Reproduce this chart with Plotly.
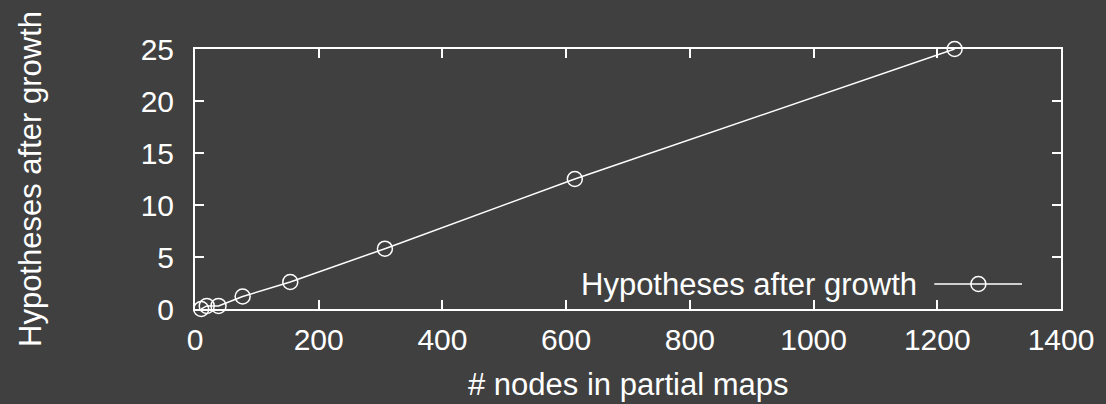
import plotly.graph_objects as go

nodes = [10, 19, 38, 77, 154, 307, 614, 1228]
hypotheses = [0.0, 0.3, 0.3, 1.2, 2.6, 5.8, 12.5, 25.0]
series_name = "Hypotheses after growth"
x_title = "# nodes in partial maps"
y_title = "Hypotheses after growth"
x_ticks = [0, 200, 400, 600, 800, 1000, 1200, 1400]
y_ticks = [0, 5, 10, 15, 20, 25]

BG = "#404040"
FG = "white"
FONT = "Liberation Sans, Arial, sans-serif"

fig = go.Figure()
fig.add_trace(go.Scatter(
    x=nodes, y=hypotheses, mode="lines+markers", name=series_name,
    line=dict(color=FG, width=1.5),
    marker=dict(symbol="circle-open", size=15, color=FG, line=dict(width=1.5, color=FG)),
    showlegend=False, cliponaxis=False,
))

axis_common = dict(
    showgrid=False, zeroline=False, showline=True, linecolor=FG, linewidth=2,
    mirror="ticks", ticks="inside", ticklen=9, tickwidth=1.5, tickcolor=FG,
    tickfont=dict(family=FONT, size=30, color=FG),
)
fig.update_xaxes(range=[0, 1400], tickvals=x_ticks, ticklabelstandoff=3, **axis_common)
fig.update_yaxes(range=[0, 25], tickvals=y_ticks, ticklabelstandoff=13, **axis_common)

fig.update_layout(
    width=1106, height=404,
    paper_bgcolor=BG, plot_bgcolor=BG,
    margin=dict(l=195, r=41, t=49, b=95),
    font=dict(family=FONT, color=FG),
    annotations=[
        dict(text=x_title, xref="paper", yref="paper", x=0.5, y=0, yshift=-75,
             xanchor="center", yanchor="middle", showarrow=False,
             font=dict(size=31, color=FG, family=FONT)),
        dict(text=y_title, xref="paper", yref="paper", x=0, y=0.5, xshift=-165,
             xanchor="center", yanchor="middle", textangle=-90, showarrow=False,
             font=dict(size=31, color=FG, family=FONT)),
        dict(text=series_name, xref="paper", yref="paper", x=0.8357, y=0.096,
             xanchor="right", yanchor="middle", showarrow=False,
             font=dict(size=31, color=FG, family=FONT)),
    ],
    shapes=[
        dict(type="line", xref="paper", yref="paper", x0=0.8537, x1=0.955, y0=0.096, y1=0.096,
             line=dict(color=FG, width=1.5)),
        dict(type="circle", xref="paper", yref="paper", xsizemode="pixel", ysizemode="pixel",
             xanchor=0.9046, yanchor=0.096, x0=-7.5, x1=7.5, y0=-7.5, y1=7.5,
             line=dict(color=FG, width=1.5), fillcolor="rgba(0,0,0,0)"),
    ],
)

fig.write_html("out.html", config={"displayModeBar": False},
               post_script="document.body.style.margin='0';document.body.style.background='#404040';")
